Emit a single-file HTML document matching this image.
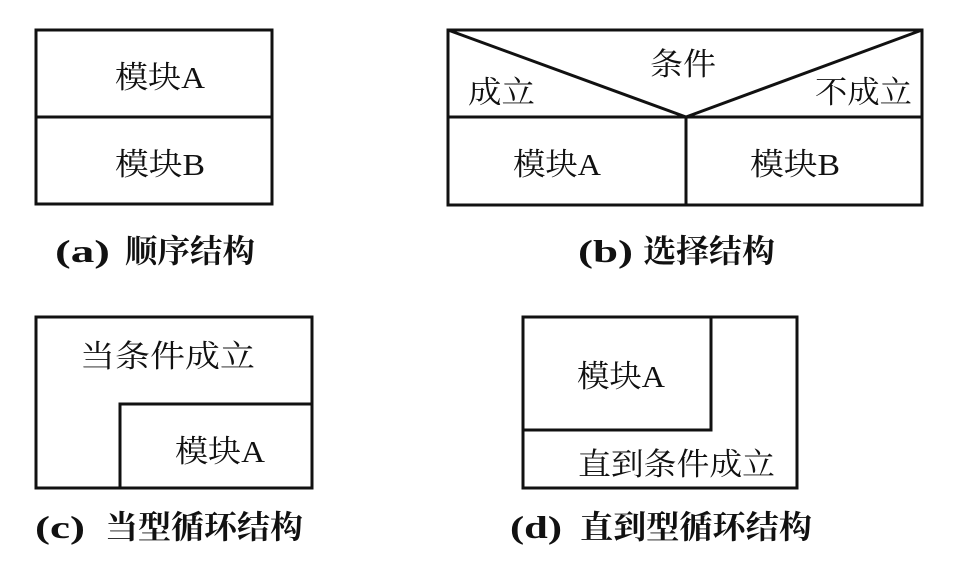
<!DOCTYPE html>
<html><head><meta charset="utf-8"><style>
html,body{margin:0;padding:0;background:#fff;}
svg text{font-family:"Liberation Serif","Noto Serif CJK SC",serif;fill:#111;}
</style></head><body>
<svg width="965" height="557" viewBox="0 0 965 557" xmlns="http://www.w3.org/2000/svg">
<g fill="none" stroke="#111" stroke-width="3">
<rect x="36" y="30" width="236" height="174"/>
<line x1="36" y1="117" x2="272" y2="117"/>
<rect x="448" y="30" width="474" height="175"/>
<line x1="448" y1="117" x2="922" y2="117"/>
<line x1="686" y1="117" x2="686" y2="205"/>
<line x1="448" y1="30" x2="686" y2="117"/>
<line x1="922" y1="30" x2="686" y2="117"/>
<rect x="36" y="317" width="276" height="171"/>
<polyline points="120,488 120,404 312,404"/>
<rect x="523" y="317" width="274" height="171"/>
<polyline points="523,430 711,430 711,317"/>
</g>
<g font-size="31">
<text x="115" y="88" textLength="90" lengthAdjust="spacingAndGlyphs">模块A</text>
<text x="115" y="175" textLength="90" lengthAdjust="spacingAndGlyphs">模块B</text>
<text x="650" y="75" textLength="66" lengthAdjust="spacingAndGlyphs">条件</text>
<text x="468" y="103" textLength="67" lengthAdjust="spacingAndGlyphs">成立</text>
<text x="815" y="103" textLength="97" lengthAdjust="spacingAndGlyphs">不成立</text>
<text x="513" y="175" textLength="88" lengthAdjust="spacingAndGlyphs">模块A</text>
<text x="750" y="175" textLength="90" lengthAdjust="spacingAndGlyphs">模块B</text>
<text x="80" y="367" textLength="175" lengthAdjust="spacingAndGlyphs">当条件成立</text>
<text x="175" y="462" textLength="90" lengthAdjust="spacingAndGlyphs">模块A</text>
<text x="577" y="387" textLength="88" lengthAdjust="spacingAndGlyphs">模块A</text>
<text x="578" y="475" textLength="197" lengthAdjust="spacingAndGlyphs">直到条件成立</text>
</g>
<g font-size="32" font-weight="bold">
<text x="55" y="262" textLength="55" lengthAdjust="spacingAndGlyphs">(a)</text>
<text x="125" y="262" textLength="130" lengthAdjust="spacingAndGlyphs">顺序结构</text>
<text x="578" y="262" textLength="55" lengthAdjust="spacingAndGlyphs">(b)</text>
<text x="643" y="262" textLength="132" lengthAdjust="spacingAndGlyphs">选择结构</text>
<text x="35" y="538" textLength="50" lengthAdjust="spacingAndGlyphs">(c)</text>
<text x="105" y="538" textLength="198" lengthAdjust="spacingAndGlyphs">当型循环结构</text>
<text x="510" y="538" textLength="52" lengthAdjust="spacingAndGlyphs">(d)</text>
<text x="580" y="538" textLength="232" lengthAdjust="spacingAndGlyphs">直到型循环结构</text>
</g>
</svg>
</body></html>
